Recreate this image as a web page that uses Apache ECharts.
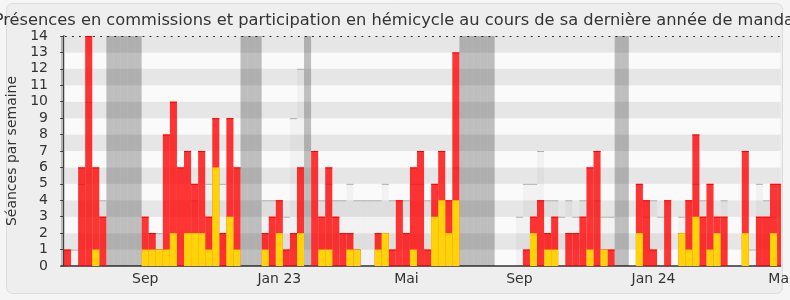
<!DOCTYPE html>
<html><head><meta charset="utf-8">
<script src="https://cdn.jsdelivr.net/npm/echarts@6/dist/echarts.min.js"></script>
<style>html,body{margin:0;padding:0;background:#f5f5f5}#c{width:790px;height:300px}</style>
</head><body><div id="c"></div>
<script>
// Weekly data (index = week number in the displayed period)
const presences = [1,0,6,14,6,3,0,0,0,0, 0,3,2,1,8,10,6,7,5,7, 3,9,2,9,6,0,0,0,2,3, 4,1,2,6,0,7,3,6,3,2, 2,1,0,0,2,2,1,4,2,6, 7,1,5,7,4,13,0,0,0,0, 0,0,0,0,0,1,3,4,2,3, 0,2,2,3,6,7,1,1,0,0, 0,5,4,1,0,4,0,2,4,8, 3,5,3,3,0,0,7,0,3,3, 5,5];
const hemicycle = [0,0,0,0,1,0,0,0,0,0, 0,1,1,1,1,2,0,2,2,2, 1,6,0,3,1,0,0,0,1,0, 2,0,0,2,0,0,1,1,0,0, 1,1,0,0,1,2,0,0,0,1, 0,0,3,4,2,4,0,0,0,0, 0,0,0,0,0,0,2,0,1,1, 0,0,0,0,1,0,1,0,0,0, 0,2,0,0,0,0,0,2,1,3, 0,1,2,0,0,0,2,0,0,0, 2,0];
const mediane = [0,1,5,10,0,4,0,0,0,0, 0,0,2,2,0,0,0,0,4,0, 5,0,5,0,0,0,0,0,4,4, 0,3,9,12,0,0,4,5,4,4, 5,4,4,4,4,5,4,0,4,5, 5,4,0,0,0,6,0,0,0,0, 0,0,0,0,3,5,5,7,4,4, 3,4,3,4,0,4,3,3,0,0, 0,0,3,4,3,0,0,3,0,5, 4,0,0,4,0,0,0,1,5,4, 3,0];
const vacances = [-1,6,7,8,9,10,25,26,27,34,56,57,58,59,60,78,79];
const tickWeeks = [11,30,48,64,83,101];
const tickLabels = ['Sep','Jan 23','Mai','Sep','Jan 24','Mai'];
const yMax = 14;
const titleText = 'Présences en commissions et participation en hémicycle au cours de sa dernière année de mandat';

const FONT = 'DejaVu Sans';
const chart = echarts.init(document.getElementById('c'), null, {renderer:'canvas'});

function rectItem(fill, topColor) {
  return function(params, api) {
    const i = api.value(0), v = api.value(1);
    if (!v) return null;
    const p0 = api.coord([i, v]);
    const p1 = api.coord([i + 1, 0]);
    const children = [{
      type:'rect',
      shape:{x:p0[0], y:p0[1], width:p1[0]-p0[0], height:p1[1]-p0[1]},
      style:{fill:fill}
    }];
    if (topColor) {
      children.push({type:'line', shape:{x1:p0[0], y1:p0[1]+0.5, x2:p1[0], y2:p0[1]+0.5},
        style:{stroke:topColor, lineWidth:1}});
    }
    return {type:'group', children:children};
  };
}

const labelPos = tickWeeks.map(w => w + 0.5);
const X_MIN = -0.425, X_MAX = 101.5;

chart.setOption({
  backgroundColor:'#f5f5f5',
  animation:false,
  graphic:[
    {type:'rect', z:-10, silent:true,
      shape:{x:6.5, y:3.5, width:776, height:290, r:6},
      style:{fill:'#eeeeee', stroke:'#dcdcdc', lineWidth:1}},
    {type:'text', z:10, silent:true, x:397, y:13,
      style:{text:titleText, align:'center', verticalAlign:'top',
        fontFamily:FONT, fontSize:16.25, fill:'#333'}}
  ],
  grid:{left:61, right:9.4, top:36, bottom:34, containLabel:false, outerBoundsMode:'none'},
  xAxis:[{
    type:'value', min:X_MIN, max:X_MAX,
    axisLine:{show:true, onZero:false, lineStyle:{color:'#333', width:1.5}},
    axisTick:{show:false},
    splitLine:{show:false},
    axisLabel:{show:true, customValues:labelPos, margin:6,
      alignMinLabel:'center', alignMaxLabel:'center', hideOverlap:false,
      fontFamily:FONT, fontSize:14, color:'#333',
      formatter:function(v){
        let best=0, d=1e9;
        labelPos.forEach((p,k)=>{ if (Math.abs(p-v)<d){d=Math.abs(p-v); best=k;} });
        return tickLabels[best];
      }}
  },{
    type:'value', position:'top', min:X_MIN, max:X_MAX,
    axisLine:{show:true, onZero:false, lineStyle:{color:'#222', width:1, type:[1,6.06], dashOffset:2.76}},
    axisTick:{show:false}, axisLabel:{show:false}, splitLine:{show:false}
  }],
  yAxis:[{
    type:'value', min:0, max:yMax, interval:1,
    name:'Séances par semaine', nameLocation:'middle', nameGap:31,
    nameTextStyle:{fontFamily:FONT, fontSize:14, color:'#333'},
    axisLine:{show:true, lineStyle:{color:'#555', width:2}},
    axisTick:{show:true, length:4, lineStyle:{color:'#555'}},
    axisLabel:{fontFamily:FONT, fontSize:14, color:'#333', margin:13},
    splitLine:{show:false},
    splitArea:{show:true, areaStyle:{color:['#fafafa','#e6e6e6']}}
  },{
    type:'value', position:'right', min:0, max:yMax,
    axisLine:{show:true, lineStyle:{color:'#cccccc', width:1}},
    axisTick:{show:false}, axisLabel:{show:false}, splitLine:{show:false}
  }],
  series:[
    {type:'custom', name:'vacances', z:1, clip:true,
      renderItem:function(params, api){
        const i = api.value(0);
        const p0 = api.coord([i, yMax]);
        const p1 = api.coord([i + 1, 0]);
        return {type:'rect', shape:{x:p0[0], y:p0[1], width:p1[0]-p0[0], height:p1[1]-p0[1]},
          style:{fill:'rgba(0,0,0,0.24)'}};
      },
      data:vacances.map(w => [w])},
    {type:'custom', name:'médiane', z:2, clip:true,
      renderItem:rectItem('rgba(0,0,0,0.03)', '#b0b0b0'),
      data:mediane.map((v,i)=>[i,v])},
    {type:'custom', name:'commission', z:3, clip:true,
      renderItem:rectItem('rgba(255,0,0,0.79)', '#ff0000'),
      data:presences.map((v,i)=>[i,v])},
    {type:'custom', name:'hémicycle', z:4, clip:true,
      renderItem:rectItem('#ffd20a', null),
      data:hemicycle.map((v,i)=>[i,v])}
  ]
});
</script></body></html>
